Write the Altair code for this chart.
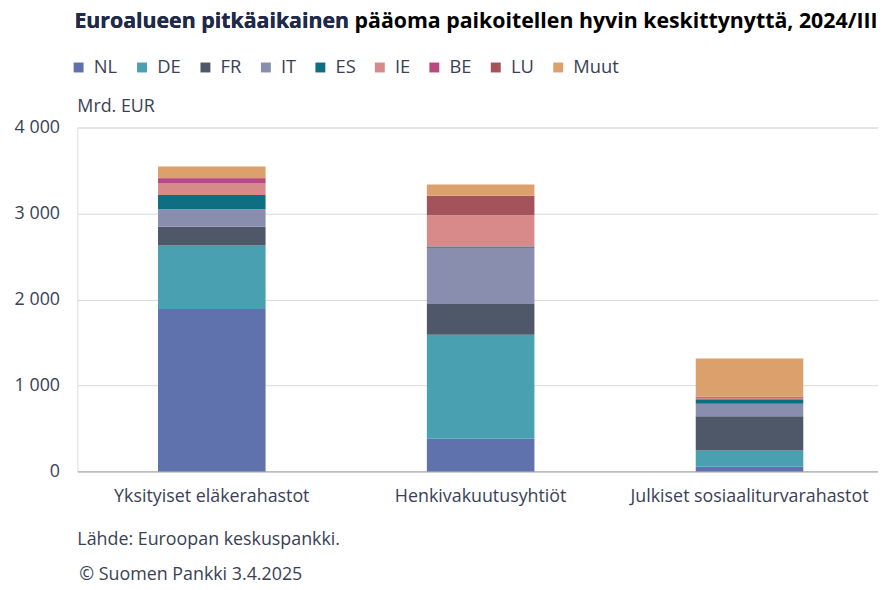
import altair as alt
import pandas as pd

categories = ["Yksityiset eläkerahastot", "Henkivakuutusyhtiöt", "Julkiset sosiaaliturvarahastot"]
countries = ["NL", "DE", "FR", "IT", "ES", "IE", "BE", "LU", "Muut"]
colors = ["#5f72ae", "#48a0b0", "#4f5869", "#8a8eae", "#0e6f82", "#d88a8a", "#b94a80", "#a5535b", "#dca06c"]
vals_private = [1890, 738, 219, 204, 165, 138, 55, 5, 134]
vals_life = [380, 1211, 357, 654, 15, 361, 3, 227, 130]
vals_public = [54, 188, 400, 146, 50, 15, 10, 5, 446]

rows = []
for cat, vals in zip(categories, [vals_private, vals_life, vals_public]):
    for i, (c, v) in enumerate(zip(countries, vals)):
        rows.append({"cat": cat, "country": c, "value": v, "ord": i})
df = pd.DataFrame(rows)

FONT = "Open Sans"
TXT = "#3a3f55"

bars = alt.Chart(df).mark_bar().encode(
    x=alt.X("cat:N", sort=categories, title=None,
            scale=alt.Scale(paddingInner=0.6, paddingOuter=0.3, range=[0, 814]),
            axis=alt.Axis(labelAngle=0, labelFontSize=18, labelColor=TXT, labelFont=FONT,
                          labelLimit=0, ticks=False, domainColor="#a6a6a6", labelPadding=16)),
    y=alt.Y("value:Q", stack="zero", title=None,
            scale=alt.Scale(domain=[0, 4000], nice=False),
            axis=alt.Axis(values=[0, 1000, 2000, 3000, 4000], domain=False, ticks=False,
                          labelExpr="replace(format(datum.value, ',d'), ',', ' ')",
                          labelFontSize=18, labelColor=TXT, labelFont=FONT, labelPadding=18,
                          gridColor="#d9d9d9")),
    color=alt.Color("country:N", sort=countries,
                    scale=alt.Scale(domain=countries, range=colors),
                    legend=alt.Legend(title=None, orient="none", legendX=-8, legendY=-70,
                                      direction="horizontal", symbolType="square", symbolSize=100,
                                      symbolStrokeWidth=0, labelFontSize=18.5, labelFont=FONT,
                                      labelColor=TXT, columnPadding=15, labelOffset=6)),
    order=alt.Order("ord:Q"),
)

title_full = ["Euroalueen pitkäaikainen pääoma paikoitellen hyvin keskittynyttä, 2024/III"]
title_part = ["Euroalueen pitkäaikainen"]

t_full = alt.Chart(pd.DataFrame({"t": title_full})).mark_text(
    align="left", baseline="middle", font=FONT, fontSize=21.5, fontWeight="bold", color="#000000"
).encode(x=alt.value(-3), y=alt.value(-106), text="t:N")
t_part = alt.Chart(pd.DataFrame({"t": title_part})).mark_text(
    align="left", baseline="middle", font=FONT, fontSize=21.5, fontWeight="bold", color="#1f2a4d"
).encode(x=alt.value(-3), y=alt.value(-106), text="t:N")

unit = alt.Chart(pd.DataFrame({"t": ["Mrd. EUR"]})).mark_text(
    align="left", baseline="middle", font=FONT, fontSize=18, color=TXT
).encode(x=alt.value(0), y=alt.value(-21), text="t:N")
src = alt.Chart(pd.DataFrame({"t": ["Lähde: Euroopan keskuspankki."]})).mark_text(
    align="left", baseline="middle", font=FONT, fontSize=18, color=TXT
).encode(x=alt.value(0), y=alt.value(416), text="t:N")
copy = alt.Chart(pd.DataFrame({"t": ["© Suomen Pankki 3.4.2025"]})).mark_text(
    align="left", baseline="middle", font=FONT, fontSize=18, color=TXT
).encode(x=alt.value(2), y=alt.value(452), text="t:N")

chart = alt.layer(bars, t_full, t_part, unit, src, copy).properties(
    width=808, height=347,
    autosize=alt.AutoSizeParams(type="none"),
    padding={"left": 70, "top": 118, "right": 0, "bottom": 113},
).configure_view(stroke=None).configure(background="white")

chart.save("out.html", embed_options={"renderer": "svg", "actions": False})
